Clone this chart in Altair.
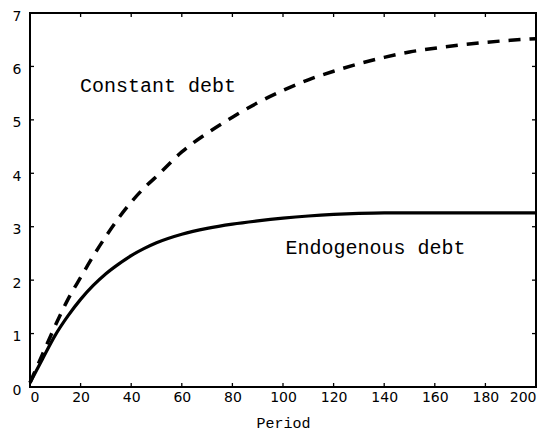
import altair as alt
import pandas as pd

# ---- data ----
period = [0, 5, 10, 15, 20, 25, 30, 35, 40, 45, 50, 60, 70, 80, 90, 100,
          110, 120, 130, 140, 150, 160, 170, 180, 190, 200]
constant_debt = [0.08, 0.62, 1.15, 1.64, 2.05, 2.45, 2.82, 3.16, 3.46, 3.72, 3.94,
                 4.40, 4.75, 5.05, 5.32, 5.55, 5.75, 5.91, 6.05, 6.17, 6.27,
                 6.34, 6.40, 6.45, 6.49, 6.52]
endogenous_debt = [0.08, 0.53, 0.97, 1.33, 1.64, 1.90, 2.12, 2.30, 2.46, 2.59, 2.70,
                   2.86, 2.97, 3.05, 3.11, 3.16, 3.20, 3.23, 3.25, 3.26, 3.26,
                   3.26, 3.26, 3.26, 3.26, 3.26]
x_ticks = [0, 20, 40, 60, 80, 100, 120, 140, 160, 180, 200]
y_ticks = [0, 1, 2, 3, 4, 5, 6, 7]
label_text = ["Constant debt", "Endogenous debt"]
label_x = [50.6, 136.6]
label_y = [5.64, 2.6]

W, H = 506, 374

rows = []
for p, c, e in zip(period, constant_debt, endogenous_debt):
    rows.append({"period": p, "value": c, "series": "Constant debt"})
    rows.append({"period": p, "value": e, "series": "Endogenous debt"})
df = pd.DataFrame(rows)
lab_df = pd.DataFrame({"text": label_text, "x": label_x, "y": label_y})
xt_df = pd.DataFrame({"t": x_ticks})
yt_df = pd.DataFrame({"t": y_ticks})

xs = alt.Scale(domain=[0, 200], nice=False, zero=False)
ys = alt.Scale(domain=[0, 7], nice=False, zero=False)

x_axis = alt.Axis(values=x_ticks, title="Period", labelFlush=True,
                  labelFont="DejaVu Sans", labelFontSize=14, labelPadding=3,
                  titleFont="Liberation Mono", titleFontSize=15, titleFontWeight="normal",
                  titlePadding=11, titleColor="black", labelColor="black",
                  grid=False, domain=False, ticks=False)
y_axis = alt.Axis(values=y_ticks, title="", labelFont="DejaVu Sans", labelFontSize=14,
                  labelPadding=9, labelOffset=3, labelColor="black",
                  grid=False, domain=False, ticks=False)


def X(field):
    return alt.X(field, scale=xs, axis=x_axis)


def Y(field):
    return alt.Y(field, scale=ys, axis=y_axis)


base = alt.Chart(df)
dashed = base.transform_filter(alt.datum.series == "Constant debt").mark_line(
    color="black", strokeWidth=3.5, strokeDash=[12, 9], interpolate="monotone"
).encode(x=X("period:Q"), y=Y("value:Q"))
solid = base.transform_filter(alt.datum.series == "Endogenous debt").mark_line(
    color="black", strokeWidth=3.2, interpolate="monotone"
).encode(x=X("period:Q"), y=Y("value:Q"))

labels = alt.Chart(lab_df).mark_text(
    font="Liberation Mono", fontSize=20, color="black", align="center", baseline="middle"
).encode(x=X("x:Q"), y=Y("y:Q"), text="text:N")

bt = alt.Chart(xt_df).mark_rule(color="black", strokeWidth=1.3).encode(
    x=X("t:Q"), y=alt.value(H), y2=alt.value(H - 4))
tt = alt.Chart(xt_df).mark_rule(color="black", strokeWidth=1.3).encode(
    x=X("t:Q"), y=alt.value(0), y2=alt.value(4))
lt = alt.Chart(yt_df).mark_rule(color="black", strokeWidth=1.3).encode(
    y=Y("t:Q"), x=alt.value(0), x2=alt.value(4))
rt = alt.Chart(yt_df).mark_rule(color="black", strokeWidth=1.3).encode(
    y=Y("t:Q"), x=alt.value(W), x2=alt.value(W - 4))

chart = alt.layer(dashed, solid, labels, bt, tt, lt, rt).properties(
    width=W, height=H,
    autosize=alt.AutoSizeParams(type="none"),
    padding={"left": 22, "top": 5, "right": 9, "bottom": 50},
    background="white",
).configure_view(
    stroke="black", strokeWidth=2
)

chart.save("out.html", embed_options={"renderer": "svg", "actions": False})
